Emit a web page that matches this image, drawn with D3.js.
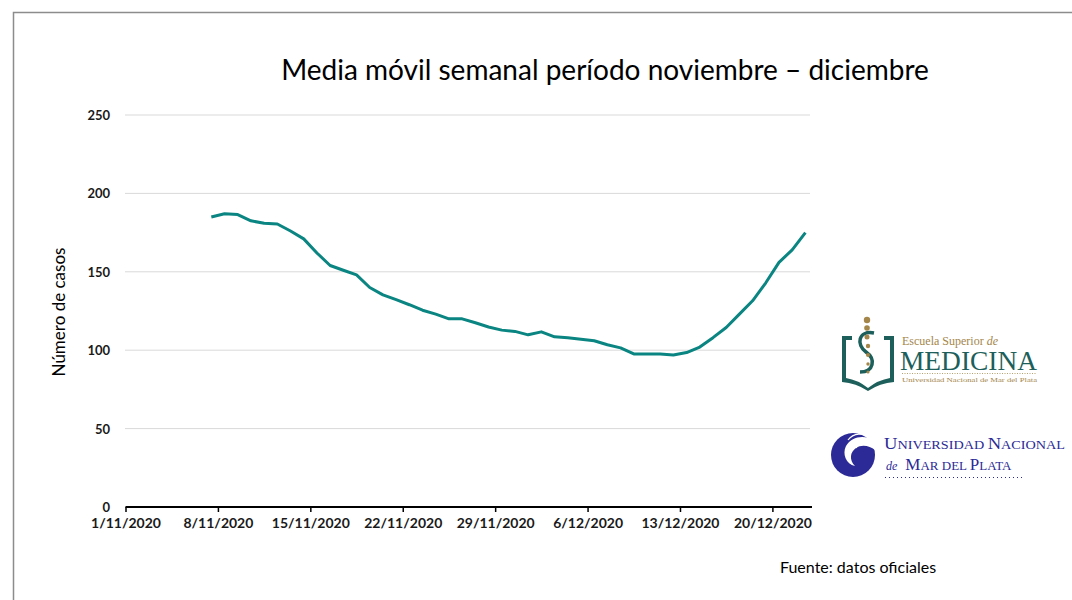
<!DOCTYPE html>
<html><head><meta charset="utf-8">
<script src="https://cdn.jsdelivr.net/npm/d3@7"></script>
<style>body{margin:0;background:#fff;}svg{display:block;}</style>
</head><body>
<svg id="c" width="1072" height="600"></svg>
<script>
const title = "Media móvil semanal período noviembre – diciembre";
const yLabel = "Número de casos";
const source = "Fuente: datos oficiales";
const startDate = "2020-11-07";
const values = [185, 187, 186.5, 182.5, 181, 180.5, 176, 171, 162, 154,
  151, 148, 140, 135.3, 132.2, 129, 125.5, 123, 120, 120,
  117.5, 114.8, 112.8, 112, 109.8, 111.7, 108.5, 108, 107, 106,
  103.5, 101.5, 97.6, 97.6, 97.6, 97, 98.5, 102, 108, 114.5,
  123, 131.5, 143, 156, 164, 175];
const yTicks = [0, 50, 100, 150, 200, 250];
const xTickLabels = ["1/11/2020","8/11/2020","15/11/2020","22/11/2020","29/11/2020","6/12/2020","13/12/2020","20/12/2020"];
const xDomain = ["2020-11-01", "2020-12-23"];

const parse = d3.utcParse("%Y-%m-%d");
const day = 864e5;
const t0 = parse(startDate);
const data = values.map((v, i) => ({date: new Date(t0.getTime() + i * day + day / 2), v}));

const svg = d3.select("#c");
const sans = "Lato, 'Open Sans', sans-serif";
// frame
svg.append("rect").attr("x", 13.5).attr("y", 12.5).attr("width", 1070).attr("height", 600)
  .attr("fill", "none").attr("stroke", "#8c8c8c").attr("stroke-width", 1.5);

const x = d3.scaleUtc().domain(xDomain.map(parse)).range([125.5, 812]);
const y = d3.scaleLinear().domain([0, 250]).range([507, 115]);

// gridlines
svg.append("g").selectAll("line").data(yTicks.filter(d => d > 0)).join("line")
  .attr("x1", 125).attr("x2", 810).attr("y1", d => y(d)).attr("y2", d => y(d))
  .attr("stroke", "#d9d9d9").attr("stroke-width", 1);

// y axis labels
const yAxis = d3.axisLeft(y).tickValues(yTicks).tickSize(0).tickPadding(0);
const gy = svg.append("g").attr("transform", "translate(110,0)").call(yAxis);
gy.select(".domain").remove();
gy.selectAll("text").attr("font-family", sans).attr("font-weight", "bold")
  .attr("font-size", 13).attr("fill", "#1a1a1a").attr("dy", "0.35em");

// x axis
const tickDates = xTickLabels.map((s, i) => new Date(parse(xDomain[0]).getTime() + i * 7 * day));
const xAxis = d3.axisBottom(x).tickValues(tickDates).tickSize(5).tickPadding(6)
  .tickFormat((d, i) => xTickLabels[i]);
const gx = svg.append("g").attr("transform", "translate(0,507)").call(xAxis);
gx.select(".domain").attr("d", `M${x.range()[0]},0H${x.range()[1]}`).attr("stroke", "#000").attr("stroke-width", 2);
gx.selectAll(".tick line").attr("stroke", "#000").attr("stroke-width", 1.5);
gx.selectAll("text").attr("font-family", sans).attr("font-weight", "bold")
  .attr("font-size", 14).attr("fill", "#1a1a1a");

// line
svg.append("path").datum(data)
  .attr("d", d3.line().x(d => x(d.date)).y(d => y(d.v)))
  .attr("fill", "none").attr("stroke", "#0a8582").attr("stroke-width", 3).attr("stroke-linejoin", "round");

// title
svg.append("text").attr("x", 605).attr("y", 80).attr("text-anchor", "middle")
  .attr("font-family", sans).attr("font-size", 28).attr("fill", "#000").text(title);

// y label
svg.append("text").attr("transform", "translate(65,312) rotate(-90)").attr("text-anchor", "middle")
  .attr("font-family", sans).attr("font-size", 17).attr("fill", "#000").text(yLabel);

// source
svg.append("text").attr("x", 780).attr("y", 573)
  .attr("font-family", sans).attr("font-size", 16).attr("fill", "#000").text(source);

// ---- Logo: Escuela Superior de Medicina ----
const lg = svg.append("g");
const teal = "#1d5f5b", gold = "#a4864a";
lg.append("path").attr("d", "M842,336 H852 V340 H846 V378 Q858,380 868,388 Q878,380 890,378 V340 H884 V336 H894 V382 Q880,383 868,391 Q856,383 842,382 Z")
  .attr("fill", teal);
lg.append("path").attr("d", "M874,333 C858,330 856,345 866,352 C876,359 874,372 860,372")
  .attr("fill", "none").attr("stroke", teal).attr("stroke-width", 3.5);
[[867,320,3.2],[867,328,2.8],[867,337,2.5],[868,346,2.2],[868,355,2],[868,364,1.7],[868,372,1.5]].forEach(([cx,cy,r]) =>
  lg.append("circle").attr("cx", cx).attr("cy", cy).attr("r", r).attr("fill", gold));
lg.append("text").attr("x", 902).attr("y", 345).attr("font-family", "'Liberation Serif', serif").attr("font-size", 12).attr("fill", gold)
  .text("Escuela Superior ").append("tspan").attr("font-style", "italic").text("de");
lg.append("text").attr("x", 900).attr("y", 370).attr("font-family", "'Liberation Serif', serif").attr("font-size", 27)
  .attr("fill", teal).attr("textLength", 137).attr("lengthAdjust", "spacingAndGlyphs").text("MEDICINA");
lg.append("line").attr("x1", 902).attr("x2", 1037).attr("y1", 373.5).attr("y2", 373.5)
  .attr("stroke", gold).attr("stroke-width", 0.8).attr("stroke-dasharray", "1,1.5");
lg.append("text").attr("x", 902).attr("y", 382).attr("font-family", "'Liberation Serif', serif").attr("font-size", 7).attr("fill", gold)
  .attr("textLength", 135).attr("lengthAdjust", "spacingAndGlyphs").text("Universidad Nacional de Mar del Plata");

// ---- Logo: Universidad Nacional de Mar del Plata ----
const blue = "#2b2a96";
const ug = svg.append("g");
ug.append("circle").attr("cx", 853).attr("cy", 455).attr("r", 22).attr("fill", blue);
ug.append("path").attr("d", "M875,442 C866,434 852,436 846,446 C842,454 846,464 855,466 C849,460 850,452 856,448 C862,444 870,446 875,450 Z")
  .attr("fill", "#fff");
ug.append("path").attr("d", "M876,446 C870,441 860,441 856,448").attr("fill", "none").attr("stroke", "#fff").attr("stroke-width", 1.2);
ug.append("path").attr("d", "M872,438 C864,432 853,433 848,440").attr("fill", "none").attr("stroke", "#fff").attr("stroke-width", 1.2);
const serif = "'Liberation Serif', serif";
const t1 = ug.append("text").attr("x", 884).attr("y", 449).attr("font-family", serif).attr("fill", blue).attr("font-size", 13)
  .attr("textLength", 181).attr("lengthAdjust", "spacingAndGlyphs");
t1.append("tspan").attr("font-size", 17).text("U");
t1.append("tspan").text("NIVERSIDAD ");
t1.append("tspan").attr("font-size", 17).text("N");
t1.append("tspan").text("ACIONAL");
const t2 = ug.append("text").attr("x", 886).attr("y", 470).attr("font-family", serif).attr("fill", blue).attr("font-size", 13);
t2.append("tspan").attr("font-style", "italic").attr("font-size", 12).text("de");
t2.append("tspan").attr("dx", 8).attr("font-size", 17).text("M");
t2.append("tspan").text("AR DEL ");
t2.append("tspan").attr("font-size", 17).text("P");
t2.append("tspan").text("LATA");
ug.append("line").attr("x1", 885).attr("x2", 1022).attr("y1", 477.5).attr("y2", 477.5)
  .attr("stroke", blue).attr("stroke-width", 1).attr("stroke-dasharray", "1,3");
</script>
</body></html>
